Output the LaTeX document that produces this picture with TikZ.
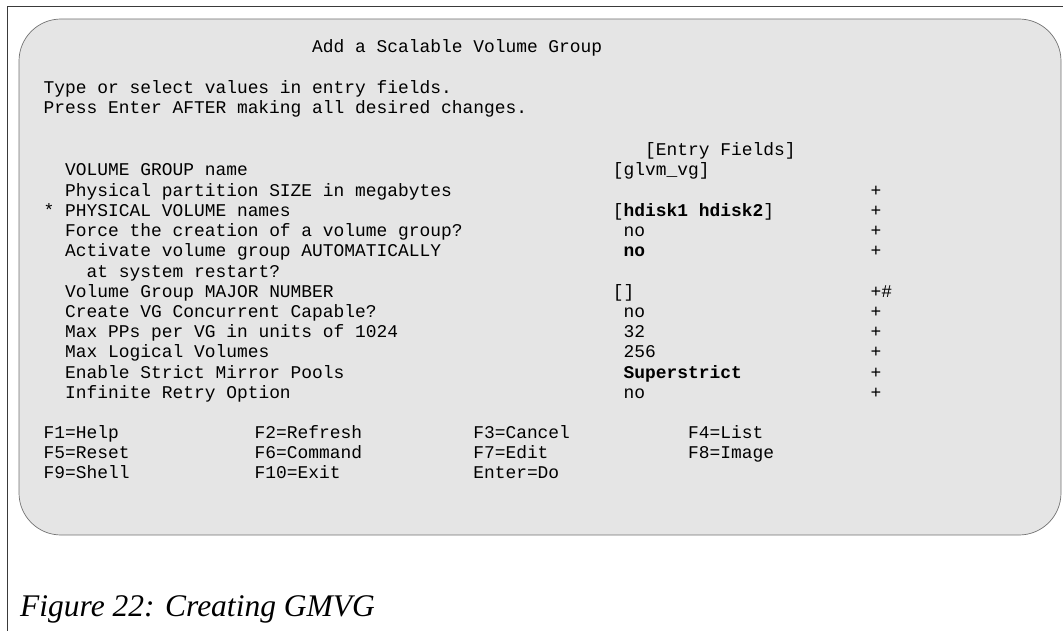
\documentclass[tikz,border=0pt]{standalone}
\usepackage{fontspec}
\setmainfont{Liberation Serif}
\setmonofont{Liberation Mono}
\definecolor{smitgray}{HTML}{E5E5E5}
\definecolor{framegray}{HTML}{3A3A3A}
\tikzset{
  txt/.style={anchor=base west, inner sep=0pt, font=\ttfamily\fontsize{17.9}{20}\selectfont},
  txtb/.style={txt, font=\ttfamily\bfseries\fontsize{17.9}{20}\selectfont},
  capt/.style={anchor=base west, inner sep=0pt, font=\itshape\fontsize{31.5}{36}\selectfont},
  screen/.style={fill=smitgray, draw=black!55, line width=0.7pt, rounded corners=42pt},
  frame/.style={draw=framegray, line width=1pt}
}
\begin{document}
\begin{tikzpicture}[x=1pt,y=-1pt]
\useasboundingbox (0,0) rectangle (1063,631);
\draw[frame] (7,640) -- (7,7) -- (1070,7);
\draw[screen] (19,19) rectangle (1061,535);

\node[txt] (title) at (312.0,53) {Add a Scalable Volume Group};
\node[txt] (hint1) at (43.5,93.5) {Type or select values in entry fields.};
\node[txt] (hint2) at (43.5,113.5) {Press Enter AFTER making all desired changes.};

\node[txt] (head) at (645.0,155.8) {[Entry Fields]};

\node[txt] (lbl0) at (65.0,176) {VOLUME GROUP name};
\node[txt] (val0) at (612.7,176) {[glvm\_vg]};

\node[txt] (lbl1) at (65.0,196.2) {Physical partition SIZE in megabytes};
\node[txt] (flg1) at (870.5,196.2) {+};

\node[txt] (lbl2) at (43.5,216.4) {* PHYSICAL VOLUME names};
\node[txt] (val2) at (612.7,216.4) {[\textbf{hdisk1 hdisk2}]};
\node[txt] (flg2) at (870.5,216.4) {+};

\node[txt] (lbl3) at (65.0,236.6) {Force the creation of a volume group?};
\node[txt] (val3) at (623.5,236.6) {no};
\node[txt] (flg3) at (870.5,236.6) {+};

\node[txt] (lbl4) at (65.0,256.8) {Activate volume group AUTOMATICALLY};
\node[txtb] (val4) at (623.5,256.8) {no};
\node[txt] (flg4) at (870.5,256.8) {+};

\node[txt] (lbl5) at (86.5,277) {at system restart?};

\node[txt] (lbl6) at (65.0,297.2) {Volume Group MAJOR NUMBER};
\node[txt] (val6) at (612.7,297.2) {[]};
\node[txt] (flg6) at (870.5,297.2) {+\#};

\node[txt] (lbl7) at (65.0,317.4) {Create VG Concurrent Capable?};
\node[txt] (val7) at (623.5,317.4) {no};
\node[txt] (flg7) at (870.5,317.4) {+};

\node[txt] (lbl8) at (65.0,337.6) {Max PPs per VG in units of 1024};
\node[txt] (val8) at (623.5,337.6) {32};
\node[txt] (flg8) at (870.5,337.6) {+};

\node[txt] (lbl9) at (65.0,357.8) {Max Logical Volumes};
\node[txt] (val9) at (623.5,357.8) {256};
\node[txt] (flg9) at (870.5,357.8) {+};

\node[txt] (lbl10) at (65.0,378) {Enable Strict Mirror Pools};
\node[txtb] (val10) at (623.5,378) {Superstrict};
\node[txt] (flg10) at (870.5,378) {+};

\node[txt] (lbl11) at (65.0,398.2) {Infinite Retry Option};
\node[txt] (val11) at (623.5,398.2) {no};
\node[txt] (flg11) at (870.5,398.2) {+};

\node[txt] (fk1) at (43.5,438.2) {F1=Help};
\node[txt] (fk2) at (254.5,438.2) {F2=Refresh};
\node[txt] (fk3) at (473.1,438.2) {F3=Cancel};
\node[txt] (fk4) at (687.9,438.2) {F4=List};
\node[txt] (fk5) at (43.5,458.5) {F5=Reset};
\node[txt] (fk6) at (254.5,458.5) {F6=Command};
\node[txt] (fk7) at (473.1,458.5) {F7=Edit};
\node[txt] (fk8) at (687.9,458.5) {F8=Image};
\node[txt] (fk9) at (43.5,478.8) {F9=Shell};
\node[txt] (fk10) at (254.5,478.8) {F10=Exit};
\node[txt] (fk11) at (473.1,478.8) {Enter=Do};

\node[capt] (cap) at (20,616) {Figure 22: Creating GMVG};
\end{tikzpicture}
\end{document}
